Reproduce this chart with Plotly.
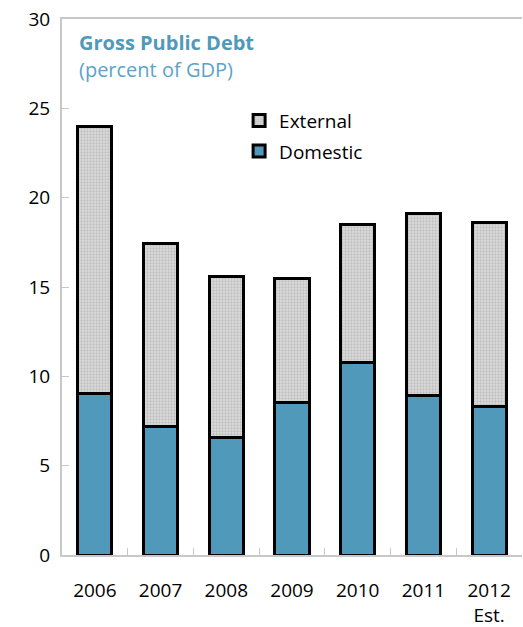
import plotly.graph_objects as go

years = ["2006", "2007", "2008", "2009", "2010", "2011", "2012<br>Est."]
domestic = [9.05, 7.2, 6.6, 8.55, 10.8, 8.95, 8.3]
external = [14.95, 10.25, 9.0, 6.95, 7.7, 10.15, 10.3]
y_ticks = [0, 5, 10, 15, 20, 25, 30]

FONT = "Open Sans"
BLUE = "#5199bb"

fig = go.Figure()
fig.add_trace(go.Bar(
    x=years, y=domestic, name="Domestic", legendgroup="d", legendrank=2,
    marker=dict(color=BLUE, line=dict(color="black", width=3)),
    width=0.52,
))
fig.add_trace(go.Bar(
    x=years, y=external, name="External", legendgroup="e", legendrank=1,
    marker=dict(color="#d0d0d0", line=dict(color="black", width=3),
                pattern=dict(shape=".", size=3, solidity=0.45,
                             fgcolor="#a0a0a0", bgcolor="#dcdcdc")),
    width=0.52,
))

fig.update_layout(
    barmode="stack",
    width=523, height=627,
    margin=dict(l=62, r=1, t=19, b=72),
    paper_bgcolor="white", plot_bgcolor="white",
    font=dict(family=FONT, size=19, color="black"),
    showlegend=True,
    legend=dict(x=0.385, y=0.846, xanchor="left", yanchor="top",
                traceorder="grouped", font=dict(size=19, family=FONT),
                bgcolor="rgba(0,0,0,0)", itemwidth=30, tracegroupgap=3),
    xaxis=dict(showline=True, linecolor="#c8c8c8", linewidth=2, mirror=True,
               ticks="inside", tickson="boundaries", ticklen=7, tickcolor="#c8c8c8",
               ticklabelstandoff=17, automargin=False,
               tickfont=dict(size=19, family=FONT)),
    yaxis=dict(range=[0, 30], tickvals=y_ticks, showline=True, linecolor="#c8c8c8",
               linewidth=2, ticks="inside", ticklen=7, tickcolor="#c8c8c8",
               ticklabelstandoff=6, automargin=False,
               showgrid=False, zeroline=False, tickfont=dict(size=19, family=FONT)),
    annotations=[
        dict(text="<b>Gross Public Debt</b>", x=0.033, y=0.986, xref="paper", yref="paper",
             xanchor="left", yanchor="top", showarrow=False,
             font=dict(size=20, family=FONT, color=BLUE)),
        dict(text="(percent of GDP)", x=0.033, y=0.935, xref="paper", yref="paper",
             xanchor="left", yanchor="top", showarrow=False,
             font=dict(size=20, family=FONT, color="#5ba3c9")),
    ],
)

fig.write_html("out.html")
